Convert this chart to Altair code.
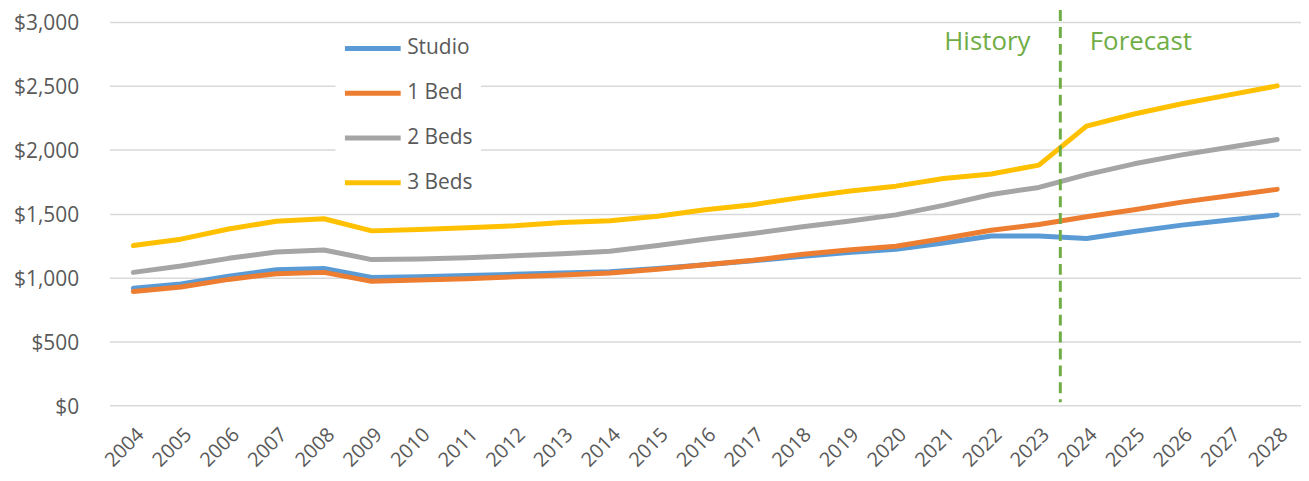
import altair as alt
import pandas as pd

years = list(range(2004, 2029))
series_names = ["Studio", "1 Bed", "2 Beds", "3 Beds"]
colors = ["#5B9BD5", "#ED7D31", "#A5A5A5", "#FFC000"]

studio = [915, 950, 1010, 1060, 1070, 1000, 1005, 1015, 1025, 1035, 1045, 1070, 1100,
          1130, 1165, 1195, 1220, 1270, 1325, 1325, 1305, 1360, 1410, 1450, 1490]
one_bed = [890, 925, 985, 1030, 1040, 970, 980, 990, 1005, 1020, 1035, 1065, 1100,
           1135, 1180, 1215, 1245, 1305, 1370, 1415, 1475, 1530, 1590, 1640, 1690]
two_beds = [1040, 1090, 1150, 1200, 1215, 1140, 1145, 1155, 1170, 1185, 1205, 1250, 1300,
            1345, 1395, 1440, 1490, 1565, 1650, 1705, 1805, 1890, 1960, 2020, 2080]
three_beds = [1250, 1300, 1380, 1440, 1460, 1365, 1375, 1390, 1405, 1430, 1445, 1480, 1530,
              1570, 1625, 1675, 1715, 1775, 1810, 1880, 2185, 2280, 2360, 2430, 2500]

divider_year = [2023.45]
note_labels = ["History", "Forecast"]
note_x = [2021.92, 2025.14]
note_y = [2840, 2840]

rows = []
for name, vals in zip(series_names, [studio, one_bed, two_beds, three_beds]):
    for yr, v in zip(years, vals):
        rows.append({"Year": yr, "Rent": v, "Type": name})
df = pd.DataFrame(rows)

FONT = "Open Sans"
GREEN = "#70AD47"

x_scale = alt.Scale(domain=[2003.5, 2028.5], nice=False, zero=False)
y_scale = alt.Scale(domain=[0, 3000], nice=False)

lines = alt.Chart(df).mark_line(strokeWidth=5, strokeCap="round", strokeJoin="round").encode(
    x=alt.X("Year:Q", scale=x_scale,
            axis=alt.Axis(values=years, format="d", labelAngle=-45, labelAlign="right",
                          labelBaseline="top", labelPadding=19, labelFontSize=20,
                          labelFont=FONT, labelColor="#595959", ticks=False, domain=False,
                          grid=False, title=None, labelOverlap=False, labelBound=False,
                          labelFlush=False)),
    y=alt.Y("Rent:Q", scale=y_scale,
            axis=alt.Axis(values=[0, 500, 1000, 1500, 2000, 2500, 3000], format="$,.0f",
                          labelFontSize=21, labelFont=FONT, labelColor="#595959",
                          ticks=False, domain=False, grid=True, gridColor="#D9D9D9",
                          gridWidth=1.5, labelPadding=31, labelOffset=2, title=None)),
    color=alt.Color("Type:N", scale=alt.Scale(domain=series_names, range=colors),
                    legend=alt.Legend(orient="none", legendX=227, legendY=3, title=None,
                                      symbolType="M-2,0H2", symbolSize=784,
                                      symbolStrokeWidth=5, labelFontSize=21,
                                      labelFont=FONT, labelColor="#595959",
                                      rowPadding=18, fillColor="white", padding=7,
                                      symbolOffset=14, labelOffset=18, strokeColor="white")),
    order="Year:Q",
)

div_df = pd.DataFrame({"Year": divider_year})
divider = alt.Chart(div_df).mark_rule(color=GREEN, strokeWidth=3, strokeDash=[11, 6]).encode(
    x=alt.X("Year:Q", scale=x_scale),
    y=alt.value(-12),
    y2=alt.value(382),
)

notes_df = pd.DataFrame({"label": note_labels, "Year": note_x, "Rent": note_y})
notes = alt.Chart(notes_df).mark_text(font=FONT, fontSize=26, color=GREEN, align="center",
                                      baseline="middle").encode(
    x=alt.X("Year:Q", scale=x_scale),
    y=alt.Y("Rent:Q", scale=y_scale),
    text="label:N",
)

chart = alt.layer(lines, divider, notes).properties(
    width=1197, height=385,
    autosize=alt.AutoSizeParams(type="none"),
    padding={"left": 102, "top": 13, "right": 0, "bottom": 66},
).configure_view(stroke=None)

chart.save("out.html", embed_options={"renderer": "svg", "actions": False})
